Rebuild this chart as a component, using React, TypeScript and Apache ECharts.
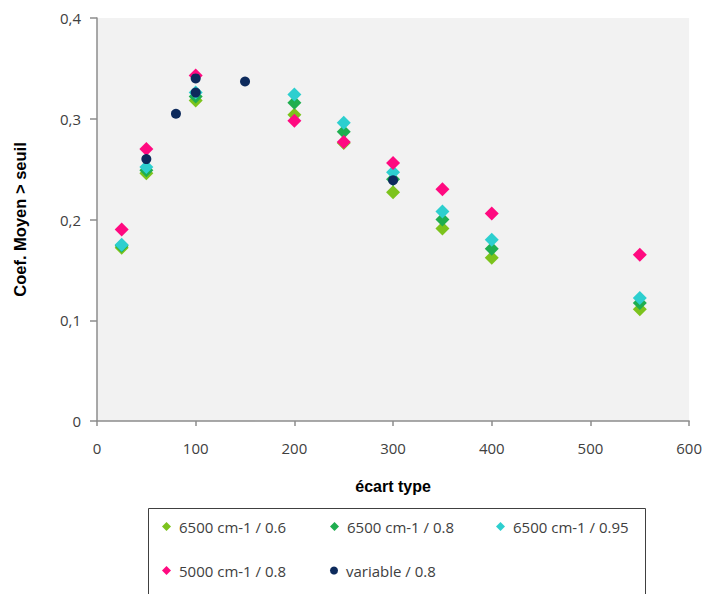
import React, { useEffect, useRef } from "react";
import * as echarts from "echarts";

const seriesNames = [
  "6500 cm-1 / 0.6",
  "6500 cm-1 / 0.8",
  "6500 cm-1 / 0.95",
  "5000 cm-1 / 0.8",
  "variable / 0.8",
];
const seriesColors = ["#7cc31d", "#1fae4f", "#2dcfcf", "#ff0a80", "#0d2a5c"];

const xMain = [25, 50, 100, 200, 250, 300, 350, 400, 550];
const y06 = [0.172, 0.246, 0.318, 0.304, 0.276, 0.227, 0.191, 0.162, 0.111];
const y08 = [0.174, 0.249, 0.322, 0.316, 0.287, 0.24, 0.2, 0.171, 0.117];
const y095 = [0.175, 0.252, 0.326, 0.324, 0.296, 0.247, 0.208, 0.18, 0.122];
const y5000 = [0.19, 0.27, 0.343, 0.298, 0.277, 0.256, 0.23, 0.206, 0.165];
const xVar = [50, 80, 100, 100, 150, 300];
const yVar = [0.26, 0.305, 0.34, 0.326, 0.337, 0.239];

const xTicks = [0, 100, 200, 300, 400, 500, 600];
const yTicks = [0, 0.1, 0.2, 0.3, 0.4];

const zip = (xs: number[], ys: number[]) => xs.map((x, i) => [x, ys[i]]);

export default function App() {
  const ref = useRef<HTMLDivElement>(null);
  useEffect(() => {
    document.body.style.margin = "0";
    const chart = echarts.init(ref.current!, null, { renderer: "svg" });
    const seriesData = [
      zip(xMain, y06),
      zip(xMain, y08),
      zip(xMain, y095),
      zip(xMain, y5000),
      zip(xVar, yVar),
    ];
    const legendPos = [
      [162, 519],
      [330, 519],
      [496, 519],
      [162, 563],
      [330, 563],
    ];
    const font = "'Open Sans', 'Liberation Sans', sans-serif";
    const titleFont = "'Liberation Sans', Arial, sans-serif";
    chart.setOption({
      animation: false,
      backgroundColor: "#ffffff",
      grid: {
        left: 97,
        right: 14,
        top: 18,
        bottom: 173,
        show: true,
        backgroundColor: "#f2f2f2",
        borderWidth: 0,
      },
      xAxis: {
        type: "value",
        min: xTicks[0],
        max: xTicks[xTicks.length - 1],
        interval: 100,
        name: "écart type",
        nameLocation: "middle",
        nameGap: 57,
        nameTextStyle: { fontFamily: titleFont, fontWeight: "bold", fontSize: 16, color: "#000" },
        axisLine: { show: true, onZero: false, lineStyle: { color: "#8c8c8c", width: 1.5 } },
        axisTick: { show: true, length: 5, lineStyle: { color: "#8c8c8c", width: 1.5 } },
        axisLabel: { fontFamily: font, fontSize: 15, color: "#404040", margin: 19 },
        splitLine: { show: false },
      },
      yAxis: {
        type: "value",
        min: yTicks[0],
        max: yTicks[yTicks.length - 1],
        interval: 0.1,
        name: "Coef. Moyen > seuil",
        nameLocation: "middle",
        nameGap: 69,
        nameTextStyle: { fontFamily: titleFont, fontWeight: "bold", fontSize: 16.5, color: "#000" },
        axisLine: { show: true, onZero: false, lineStyle: { color: "#8c8c8c", width: 1.5 } },
        axisTick: { show: true, length: 7, lineStyle: { color: "#8c8c8c", width: 1.5 } },
        axisLabel: {
          fontFamily: font,
          fontSize: 15,
          color: "#404040",
          margin: 16,
          formatter: (v: number) => (v === 0 ? "0" : v.toFixed(1).replace(".", ",")),
        },
        splitLine: { show: false },
      },
      legend: seriesNames.map((n, i) => ({
        data: [{ name: n, icon: i === 4 ? "circle" : "diamond" }],
        left: legendPos[i][0],
        top: legendPos[i][1],
        itemWidth: i === 4 ? 8 : 9,
        itemHeight: i === 4 ? 8 : 9,
        itemGap: 4,
        padding: 0,
        textStyle: { fontFamily: font, fontSize: 15, color: "#404040", padding: [0, 0, 0, 3] },
      })),
      graphic: [
        {
          type: "rect",
          shape: { x: 148.5, y: 508.5, width: 497, height: 100 },
          style: { fill: "#ffffff", stroke: "#404040", lineWidth: 1 },
          z: -1,
        },
      ],
      series: seriesNames.map((n, i) => ({
        name: n,
        type: "scatter",
        data: seriesData[i],
        symbol: i === 4 ? "circle" : "diamond",
        symbolSize: i === 4 ? 10 : 14,
        itemStyle: { color: seriesColors[i], opacity: 1 },
        z: 2 + i,
      })),
    });
    return () => chart.dispose();
  }, []);
  return <div ref={ref} style={{ width: 705, height: 594 }} />;
}
